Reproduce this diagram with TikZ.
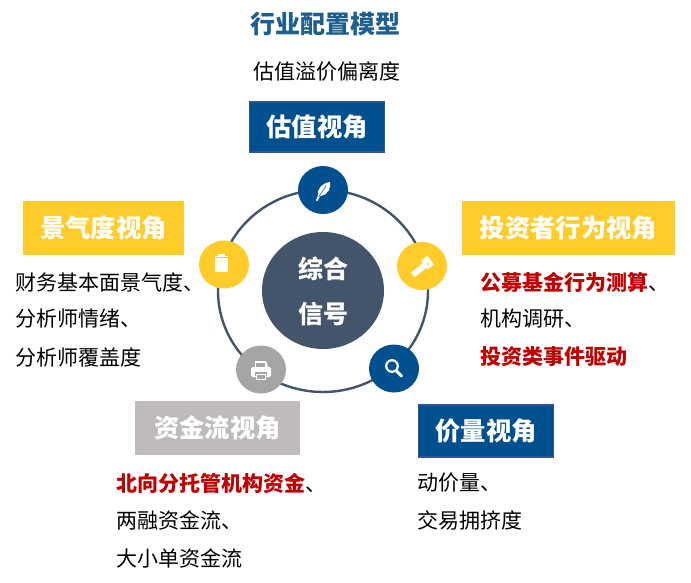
\documentclass[tikz,border=0pt]{standalone}
\usepackage{fontspec}
\usetikzlibrary{shapes.geometric}
\setmainfont{Noto Sans CJK SC}
\definecolor{navy}{HTML}{00508F}
\definecolor{navyedge}{HTML}{2F5597}
\definecolor{gold}{HTML}{FFCC29}
\definecolor{silver}{HTML}{BFBBBB}
\definecolor{slate}{HTML}{44546A}
\definecolor{midgray}{HTML}{A5A5A5}
\definecolor{crimson}{HTML}{C00000}
\definecolor{titleblue}{HTML}{1F5F8F}
\newcommand{\fs}[1]{\fontsize{#1pt}{#1pt}\selectfont}
\tikzset{
  x=1pt,y=-1pt,
  headbox/.style={minimum height=#1,inner sep=0pt,text=white,font=\fs{25.3}\bfseries},
  body/.style={anchor=west,inner sep=0pt,text=black,font=\fs{21}},
  disc/.style={ellipse,inner sep=0pt,minimum width=50pt,minimum height=48pt},
  ring/.style={draw=slate,line width=2.4pt},
}
\newcommand{\redb}[1]{\textcolor{crimson}{\bfseries #1}}
\begin{document}
\begin{tikzpicture}
\useasboundingbox (0,0) rectangle (691,583);
\fill[white] (0,0) rectangle (691,583);
\node[inner sep=0pt,text=titleblue,font=\fs{25}\bfseries] (title) at (325,24) {行业配置模型};
\node[inner sep=0pt,text=black,font=\fs{21}] (sub) at (327,72) {估值溢价偏离度};
% ring
\coordinate (hub) at (323,291);
\draw[ring] (hub) ellipse[x radius=105,y radius=101];
\node[ellipse,fill=slate,minimum width=122pt,minimum height=117pt,inner sep=0pt] (core) at (323,290.5) {};
\node[text=white,font=\fs{25}\bfseries,inner sep=0pt] (core1) at (323,269) {综合};
\node[text=white,font=\fs{25}\bfseries,inner sep=0pt] (core2) at (323,314) {信号};
% discs
\node[disc,fill=navy] (dtop) at (323,190) {};
\node[disc,fill=gold] (dright) at (422,266) {};
\node[disc,fill=navy] (dbr) at (394,368.5) {};
\node[disc,fill=midgray] (dbl) at (261,369.5) {};
\node[disc,fill=gold] (dleft) at (224,264.5) {};
% feather
\fill[white] (316,200.5) -- (318,195) .. controls (316.5,190) and (322,183) .. (330,182) .. controls (331,187) and (329,195) .. (320,196) -- (317.5,201) -- cycle;
\draw[navy,line width=.5pt] (318.5,197) -- (326,186);
% flashlight
\fill[white,rotate around={38:(422,267)}] (410,264.5) rectangle (425,270.5);
\fill[white,rotate around={38:(422,267)}] (425,261.5) rectangle (433,272.5);
\fill[gold] (428,264) circle[radius=1.2];
% magnifier
\draw[white,line width=2.2pt] (392,366) circle[radius=5.8];
\draw[white,line width=3pt,line cap=round] (396.5,371) -- (401.5,376);
% printer
\fill[white,rounded corners=1.5pt] (251,367) rectangle (271,377);
\fill[white] (255,361) -- (266,361) -- (268,367) -- (255,367) -- cycle;
\fill[midgray] (256,363) rectangle (265,366.5);
\fill[midgray] (255,372) rectangle (267,375.5);
\fill[white] (256,373.5) rectangle (266,380);
\fill[midgray] (257,375) rectangle (265,378.5);
% clipboard
\fill[white] (215,256) rectangle (228,272);
\fill[white] (218,254) rectangle (225,256.5);
\draw[gold,line width=.5pt] (215,257) -- (228,257);
% headers
\node[headbox=50pt,minimum width=135pt,fill=navy,draw=navyedge,line width=1.8pt] (h1) at (317,127) {估值视角};
\node[headbox=54pt,minimum width=213pt,fill=gold] (h2) at (568.5,228) {投资者行为视角};
\node[headbox=52pt,minimum width=135pt,fill=navy,draw=navyedge,line width=1.8pt] (h3) at (486,431) {价量视角};
\node[headbox=54pt,minimum width=165pt,fill=silver] (h4) at (217.5,428) {资金流视角};
\node[headbox=54pt,minimum width=161pt,fill=gold] (h5) at (103.5,228) {景气度视角};
% bodies
\node[body] (l1) at (15,282) {财务基本面景气度、};
\node[body] (l2) at (15,319) {分析师情绪、};
\node[body] (l3) at (15,357) {分析师覆盖度};
\node[body] (r1) at (480,282) {\redb{公募基金行为测算}、};
\node[body] (r2) at (480,319) {机构调研、};
\node[body] (r3) at (480,357) {\redb{投资类事件驱动}};
\node[body] (p1) at (417,483) {动价量、};
\node[body] (p2) at (417,520) {交易拥挤度};
\node[body] (f1) at (116,483) {\redb{北向分托管机构资金}、};
\node[body] (f2) at (116,520) {两融资金流、};
\node[body] (f3) at (116,558) {大小单资金流};
\end{tikzpicture}
\end{document}
